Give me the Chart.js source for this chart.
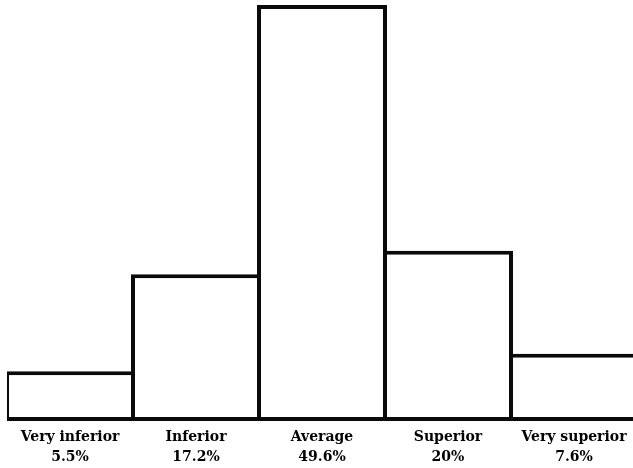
<!DOCTYPE html>
<html>
<head>
<meta charset="utf-8">
<script src="https://cdn.jsdelivr.net/npm/chart.js@4.4.0/dist/chart.umd.min.js"></script>
<style>
    html, body { margin: 0; padding: 0; background: #fff; overflow: hidden; }
    #wrap { position: relative; width: 640px; height: 468px; }
</style>
</head>
<body>
<div id="wrap"><canvas id="chart"></canvas></div>
<script>
const categories = ['Very inferior', 'Inferior', 'Average', 'Superior', 'Very superior'];
const percents = [5.5, 17.2, 49.6, 20, 7.6];

const tickLabels = categories.map((c, i) => [c, percents[i] + '%']);

const lineWidth = 4;
const plotHeight = 416; // 468 - top padding - x axis
const yMax = 49.6;
// chart.js draws borders inside the bar, so push the base down by one line width
// to keep the outline centres proportional to the values
const baseValue = -lineWidth * yMax / (plotHeight - lineWidth);

new Chart(document.getElementById('chart'), {
    type: 'bar',
    data: {
        labels: tickLabels,
        datasets: [{
            data: percents,
            base: baseValue,
            backgroundColor: '#fff',
            borderColor: '#0a0a0a',
            borderWidth: lineWidth,
            borderSkipped: false,
            inflateAmount: 0,
            // a bit wider than the slot so neighbouring borders overlap into one line
            barPercentage: 130 / 126,
            categoryPercentage: 1
        }]
    },
    options: {
        responsive: true,
        maintainAspectRatio: false,
        animation: false,
        layout: { padding: { top: 5, left: 7, right: 3, bottom: 0 } },
        plugins: {
            legend: { display: false },
            tooltip: { enabled: false }
        },
        scales: {
            x: {
                grid: { display: false, drawTicks: false },
                border: { display: false },
                afterFit: (scale) => { scale.height = 468 - 5 - plotHeight; },
                ticks: {
                    color: '#000',
                    padding: 6,
                    maxRotation: 0,
                    autoSkip: false,
                    font: { family: '"DejaVu Serif", serif', weight: 'bold', size: 14, lineHeight: '20px' }
                }
            },
            y: {
                display: false,
                min: baseValue,
                max: yMax
            }
        }
    }
});
</script>
</body>
</html>
